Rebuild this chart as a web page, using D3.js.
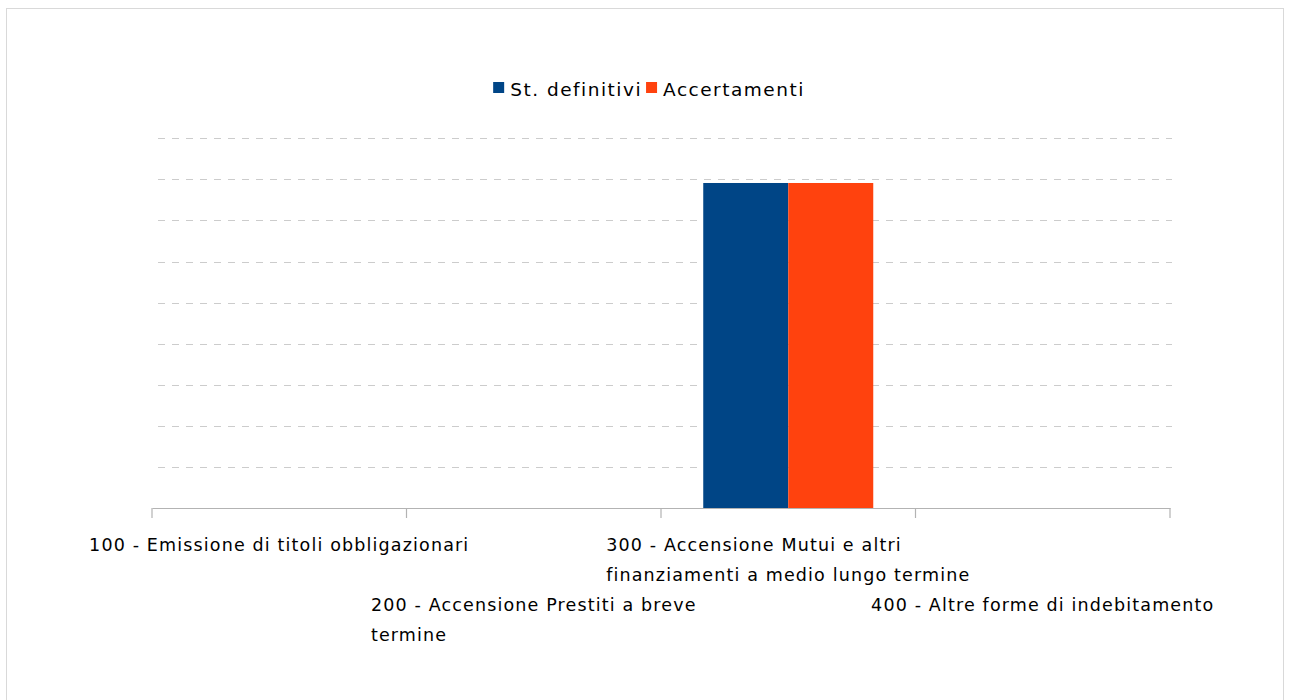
<!DOCTYPE html>
<html>
<head>
<meta charset="utf-8">
<script src="https://cdn.jsdelivr.net/npm/d3@7/dist/d3.min.js"></script>
<style>
  html, body { margin: 0; padding: 0; background: #fff; }
  svg { display: block; }
  text { font-family: "DejaVu Sans", Verdana, sans-serif; fill: #000; }
</style>
</head>
<body>
<svg id="chart" width="1291" height="700"></svg>
<script>
// ---- data ----
const categories = [
  "100 - Emissione di titoli obbligazionari",
  "200 - Accensione Prestiti a breve termine",
  "300 - Accensione Mutui e altri finanziamenti a medio lungo termine",
  "400 - Altre forme di indebitamento"
];
const categoryLines = [
  ["100 - Emissione di titoli obbligazionari"],
  ["200 - Accensione Prestiti a breve", "termine"],
  ["300 - Accensione Mutui e altri", "finanziamenti a medio lungo termine"],
  ["400 - Altre forme di indebitamento"]
];
const seriesNames = ["St. definitivi", "Accertamenti"];
const stDefinitivi = [0, 0, 3956000, 0];
const accertamenti = [0, 0, 3956000, 0];
const yTicks = [0, 500000, 1000000, 1500000, 2000000, 2500000, 3000000, 3500000, 4000000, 4500000];
const colors = ["#004586", "#ff420e"];

// ---- layout ----
const svg = d3.select("#chart");
const pLeft = 152, pRight = 1170, pTop = 138.3, pBottom = 508;

svg.append("rect")
  .attr("x", 6.5).attr("y", 8.5).attr("width", 1277).attr("height", 720)
  .attr("fill", "none").attr("stroke", "#d9d9d9").attr("stroke-width", 1);

const x0 = d3.scaleBand().domain(categories).range([pLeft, pRight]).padding(0);
const bw = x0.bandwidth();
const groupW = bw * 0.668;
const x1 = d3.scaleBand().domain(seriesNames)
  .range([(bw - groupW) / 2, (bw + groupW) / 2]).padding(0);
const y = d3.scaleLinear().domain([0, d3.max(yTicks)]).range([pBottom, pTop]);

// gridlines
svg.append("g")
  .selectAll("line")
  .data(yTicks.filter(t => t > 0))
  .join("line")
  .attr("x1", pLeft + 6).attr("x2", pRight + 2)
  .attr("y1", d => Math.round(y(d)) + 0.5).attr("y2", d => Math.round(y(d)) + 0.5)
  .attr("stroke", "#cccccc").attr("stroke-width", 1.2)
  .attr("stroke-dasharray", "7,7");

// bars
const data = categories.map((c, i) => ({ cat: c, vals: [stDefinitivi[i], accertamenti[i]] }));
const groups = svg.append("g").selectAll("g")
  .data(data).join("g")
  .attr("transform", d => `translate(${x0(d.cat)},0)`);
groups.selectAll("rect")
  .data(d => d.vals.map((v, j) => ({ name: seriesNames[j], v, j })))
  .join("rect")
  .attr("x", d => x1(d.name))
  .attr("width", x1.bandwidth())
  .attr("y", d => y(d.v))
  .attr("height", d => pBottom - y(d.v))
  .attr("fill", d => colors[d.j]);

// x axis
const xAxis = d3.axisBottom(x0).tickSize(0).tickFormat("");
const ax = svg.append("g").attr("transform", `translate(0,${pBottom})`).call(xAxis);
ax.select(".domain").attr("stroke", "#b3b3b3").attr("stroke-width", 1.2);
const bounds = [pLeft, ...categories.map(c => x0(c) + bw)];
ax.selectAll(".bound").data(bounds).join("line")
  .attr("class", "bound")
  .attr("x1", d => d).attr("x2", d => d)
  .attr("y1", 0).attr("y2", 10)
  .attr("stroke", "#b3b3b3").attr("stroke-width", 1.2);

// category labels (staggered, wrapped, block-centred, left-aligned lines)
categoryLines.forEach((lines, i) => {
  const cx = x0(categories[i]) + bw / 2;
  const baseY = 551 + (i % 2) * 60;
  const t = svg.append("text").attr("font-size", 17.5).attr("letter-spacing", 1.15);
  lines.forEach((ln, k) => {
    t.append("tspan").attr("y", baseY + k * 30).text(ln);
  });
  let maxW = 0;
  t.selectAll("tspan").each(function () { maxW = Math.max(maxW, this.getComputedTextLength()); });
  t.selectAll("tspan").attr("x", cx - maxW / 2);
});

// legend
const lg = svg.append("g");
let lx = 0;
seriesNames.forEach((n, i) => {
  const g = lg.append("g").attr("transform", `translate(${lx},0)`);
  g.append("rect").attr("x", 0).attr("y", 82).attr("width", 11).attr("height", 11).attr("fill", colors[i]);
  const tx = g.append("text").attr("x", 17).attr("y", 96)
    .attr("font-size", 18.5).attr("letter-spacing", 1.5).text(n);
  lx += 17 + tx.node().getComputedTextLength() + 4;
});
const legW = lx - 4;
lg.attr("transform", `translate(${649 - legW / 2},0)`);
</script>
</body>
</html>
